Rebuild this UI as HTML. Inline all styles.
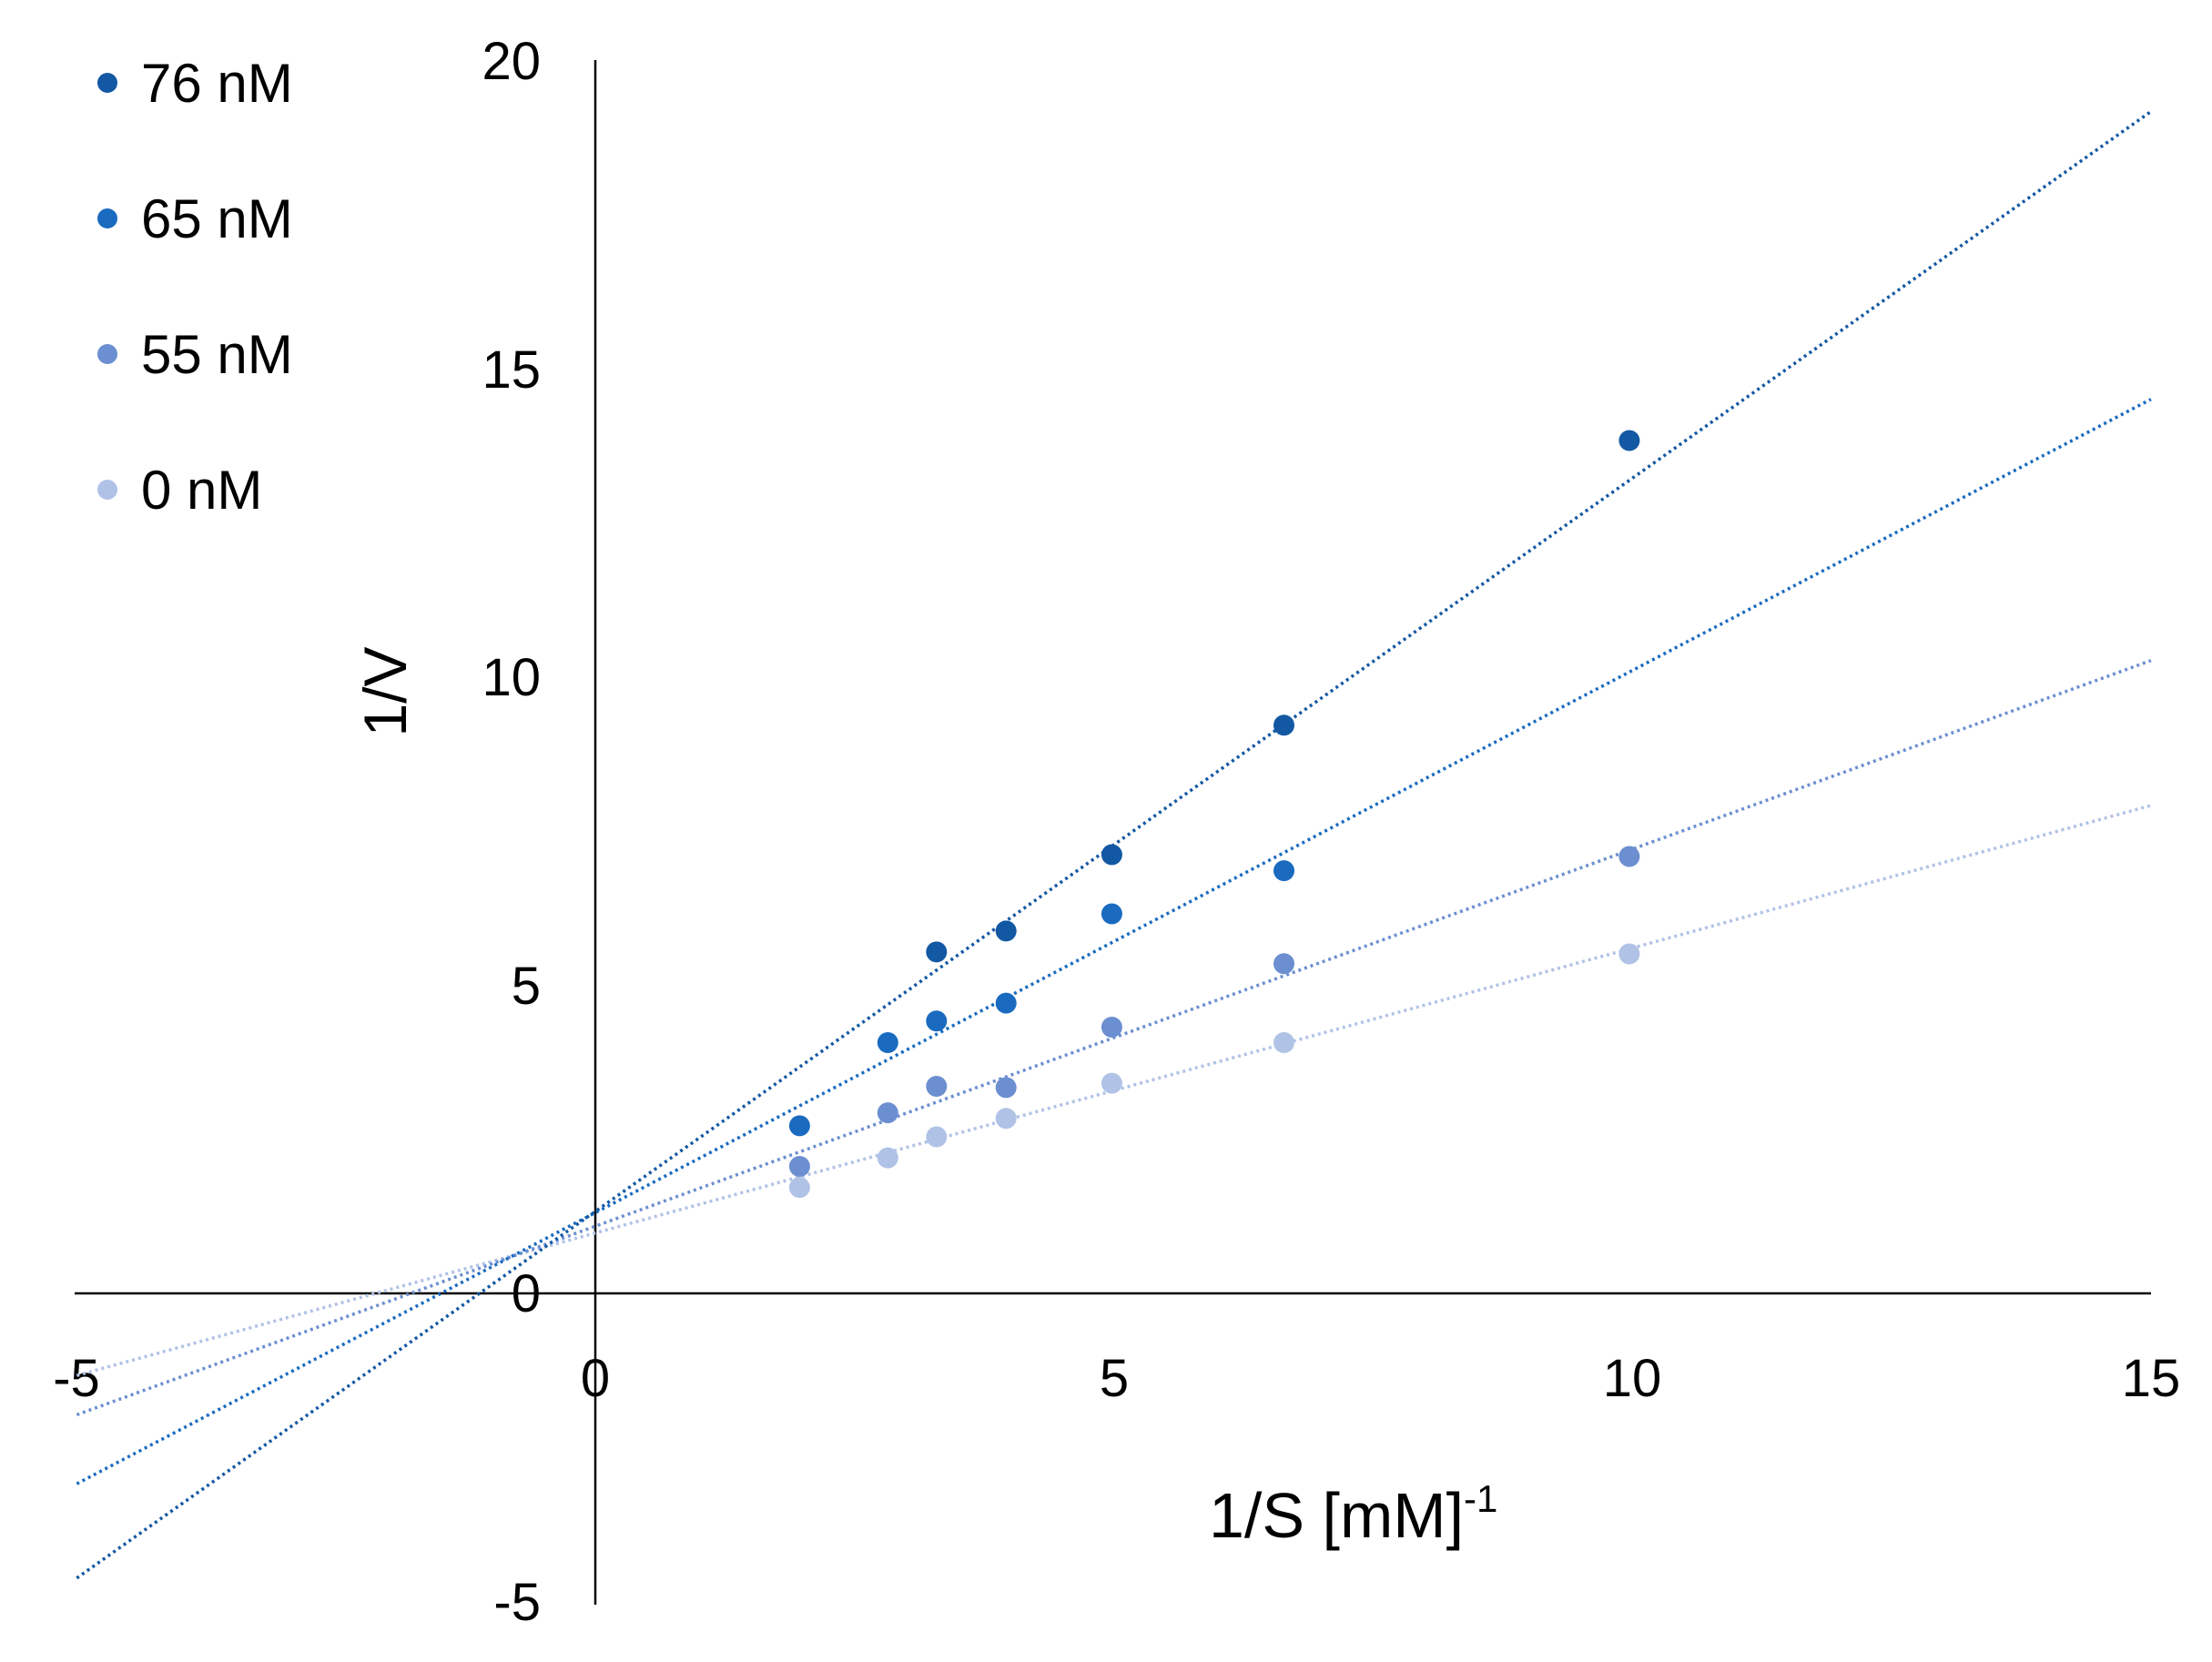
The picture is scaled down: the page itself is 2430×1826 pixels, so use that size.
<!DOCTYPE html>
<html><head><meta charset="utf-8"><style>
html,body{margin:0;padding:0;background:#fff;}
svg{display:block;font-family:"Liberation Sans",sans-serif;}
</style></head><body>
<svg id="s" width="2430" height="1826" viewBox="0 0 2430 1826" xmlns="http://www.w3.org/2000/svg">
<rect width="2430" height="1826" fill="#fff"/>
<line x1="654" y1="66" x2="654" y2="1763" stroke="#000" stroke-width="2.5"/>
<line x1="82" y1="1421" x2="2363" y2="1421" stroke="#000" stroke-width="2.5"/>
<g font-size="58" fill="#000" text-anchor="end">
<text x="594" y="87">20</text>
<text x="594" y="426">15</text>
<text x="594" y="764">10</text>
<text x="594" y="1103">5</text>
<text x="594" y="1441">0</text>
<text x="594" y="1780">-5</text>
</g>
<g font-size="58" fill="#000" text-anchor="middle">
<text x="84" y="1534">-5</text>
<text x="654" y="1534">0</text>
<text x="1224" y="1534">5</text>
<text x="1793" y="1534">10</text>
<text x="2363" y="1534">15</text>
</g>
<text transform="translate(446,760) rotate(-90)" font-size="66" text-anchor="middle">1/V</text>
<text x="1328" y="1689" font-size="70">1/S [mM]<tspan font-size="42" dy="-28">-1</tspan></text>
<g id="lines" stroke-width="3.5" stroke-dasharray="3 4" fill="none"></g>
<g id="pts"></g>
<g font-size="60" fill="#000">
<circle cx="118" cy="91" r="11" fill="#1358a3"/><text x="155" y="112">76 nM</text>
<circle cx="118" cy="240" r="11" fill="#1a6bc0"/><text x="155" y="261">65 nM</text>
<circle cx="118" cy="389" r="11" fill="#6b8fd0"/><text x="155" y="410">55 nM</text>
<circle cx="118" cy="538" r="11" fill="#b0c2e6"/><text x="155" y="559">0 nM</text>
</g>
</svg>
<script>
var X=function(x){return 654+113.93*x},Y=function(y){return 1421-67.7*y};
var xs=[1.97,2.82,3.29,3.96,4.98,6.64,9.97];
var S=[
["#b0c2e6",[1.72,2.2,2.54,2.84,3.41,4.07,5.51],0.4625,0.98],
["#6b8fd0",[2.06,2.93,3.36,3.34,4.32,5.35,7.09],0.612,1.09],
["#1a6bc0",[2.72,4.07,4.42,4.71,6.16,6.86,null],0.88,1.31],
["#1358a3",[null,null,5.54,5.88,7.12,9.22,13.84],1.19,1.33]];
var g=document.getElementById('pts'),h='',l='';
S.forEach(function(s){
l+='<line x1="'+X(-5)+'" y1="'+Y(s[3]-5*s[2])+'" x2="'+X(15)+'" y2="'+Y(s[3]+15*s[2])+'" stroke="'+s[0]+'"/>';
s[1].forEach(function(v,i){if(v!==null)h+='<circle cx="'+X(xs[i]).toFixed(1)+'" cy="'+Y(v).toFixed(1)+'" r="11.5" fill="'+s[0]+'"/>';});});
g.innerHTML=h;
document.getElementById('lines').innerHTML=l;
</script>
</body></html>
